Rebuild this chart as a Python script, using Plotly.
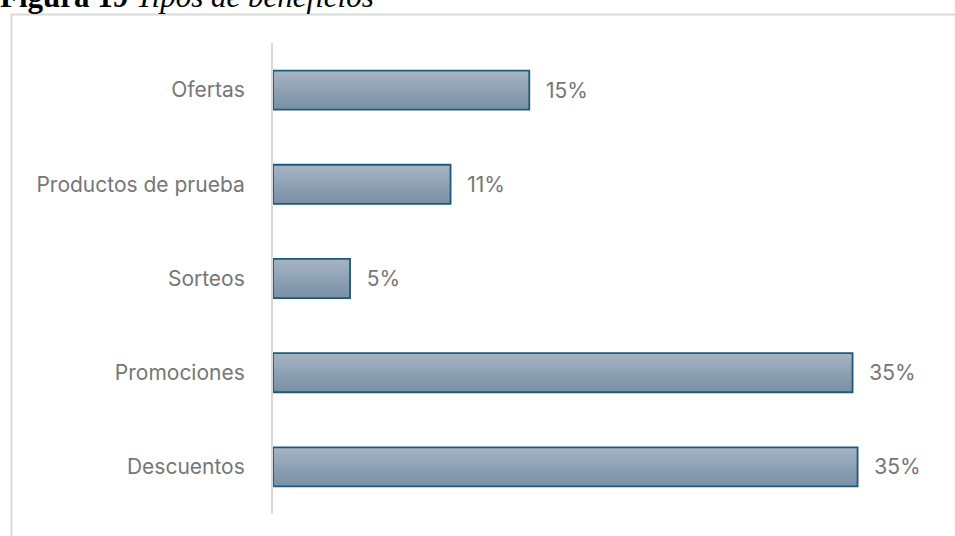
import plotly.graph_objects as go

# Tipos de beneficios (porcentaje de respuestas)
categorias = ["Descuentos", "Promociones", "Sorteos", "Productos de prueba", "Ofertas"]
valores = [34.9, 34.6, 4.6, 10.6, 15.3]

# Geometry of the plotting area, in pixels, used to place paper-referenced items
W, H = 955, 536
L, R, T, B = 273, 12, 43, 22
PW, PH = W - L - R, H - T - B


def px_x(x):
    return (x - L) / PW


def px_y(y):
    return (H - B - y) / PH


BAR_W = 0.415
N_STRIPS = 20
top_rgb = (164, 180, 195)
bot_rgb = (122, 144, 166)
SANS = "Inter, Liberation Sans, Arial, sans-serif"
GREY = "#767676"

fig = go.Figure()

# Vertical gradient fill: each strip runs from its start to the top of the bar,
# later (lighter) strips are drawn over the earlier ones
for i in range(N_STRIPS):
    t = i / (N_STRIPS - 1)
    rgb = tuple(round(b + (a - b) * t) for a, b in zip(top_rgb, bot_rgb))
    step = BAR_W / N_STRIPS
    fig.add_trace(go.Bar(
        y=categorias, x=valores, orientation="h",
        width=BAR_W - i * step, offset=-BAR_W / 2 + i * step,
        marker=dict(color="rgb(%d,%d,%d)" % rgb, line=dict(width=0)),
        hoverinfo="skip", showlegend=False,
    ))

# Outline and value labels
fig.add_trace(go.Bar(
    y=categorias, x=valores, orientation="h",
    width=BAR_W,
    marker=dict(color="rgba(0,0,0,0)", line=dict(color="#1c5a7c", width=1.8)),
    texttemplate="\u00a0\u00a0\u200a%{x:.0f}%", textposition="outside",
    textfont=dict(family=SANS, size=21, color=GREY),
    cliponaxis=False, showlegend=False,
))

fig.update_layout(
    width=W, height=H,
    margin=dict(l=L, r=R, t=T, b=B, pad=0),
    paper_bgcolor="white", plot_bgcolor="white",
    barmode="overlay",
    xaxis=dict(range=[0, 40], showgrid=False, zeroline=False,
               showticklabels=False, ticks="", fixedrange=True),
    yaxis=dict(range=[-0.5, 4.5], showgrid=False, zeroline=False,
               showline=True, linecolor="#d9d9d9", linewidth=2,
               ticks="", ticklabelstandoff=22,
               tickfont=dict(family=SANS, size=21, color=GREY)),
    shapes=[dict(type="rect", xref="paper", yref="paper",
                 x0=px_x(11.5), x1=px_x(W + 20), y0=px_y(H + 20), y1=px_y(14.5),
                 line=dict(color="#d9d9d9", width=2), fillcolor="rgba(0,0,0,0)",
                 layer="below")],
    annotations=[dict(
        text="<b>Figura 19</b> <i>Tipos de beneficios</i>",
        xref="paper", yref="paper", x=px_x(-2), y=px_y(16),
        xanchor="left", yanchor="bottom", showarrow=False,
        font=dict(family="Liberation Serif, Times New Roman, serif", size=31, color="black"),
    )],
)

fig.write_html("out.html")
